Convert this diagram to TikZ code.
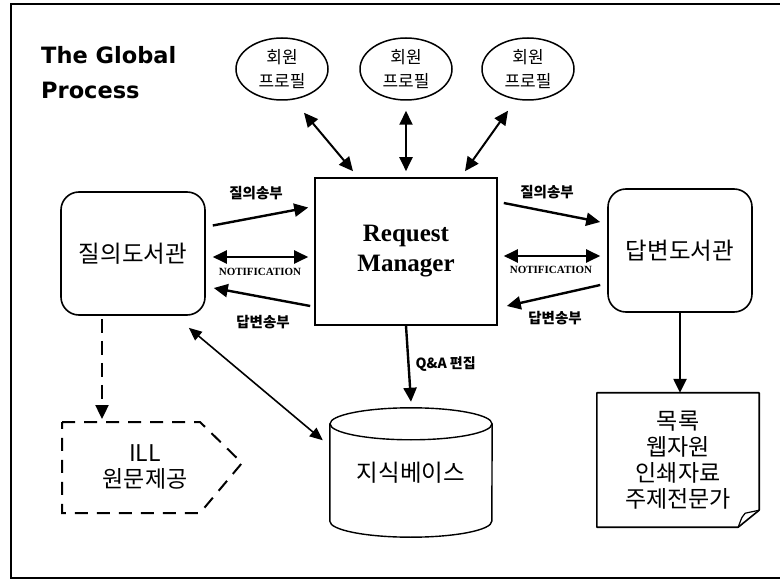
\documentclass[tikz,border=0pt]{standalone}
\usepackage{fontspec}
\setmainfont{Liberation Serif}
\newfontfamily\kr{Noto Sans CJK KR}
\newfontfamily\titlefont{DejaVu Sans}
\usetikzlibrary{arrows.meta,shapes.geometric}

\tikzset{
  lib/.style={draw, line width=1.6pt, rounded corners=18pt, minimum width=144pt,
    minimum height=123pt, font=\kr\fontsize{23.5}{26}\selectfont},
  profile/.style={draw, ellipse, line width=1.5pt, minimum width=92pt, minimum height=62pt,
    inner sep=0pt, align=center, font=\kr\fontsize{17}{24}\selectfont},
  flow/.style={line width=2.4pt, -{Triangle[length=14pt,width=13pt]}},
  twoway/.style={line width=2.4pt, {Triangle[length=14pt,width=13pt]}-{Triangle[length=14pt,width=13pt]}},
  lbl/.style={font=\kr\bfseries\fontsize{14.5}{16}\selectfont, inner sep=1pt},
  note/.style={font=\bfseries\fontsize{11}{12}\selectfont, inner sep=1pt},
  body/.style={font=\kr\fontsize{23}{26}\selectfont, align=center},
}

\begin{document}
\begin{tikzpicture}[x=1pt, y=-1pt]
  \useasboundingbox (0,0) rectangle (780,580);

  % frame
  \draw[line width=1.4pt] (790,4) -- (11,4) -- (11,578) -- (790,578);

  % title
  \node[anchor=north west, inner sep=0pt, align=left,
    font=\titlefont\bfseries\fontsize{22.5}{35}\selectfont] (title) at (41,46)
    {The Global\\Process};

  % member profiles
  \foreach \i/\x in {1/282,2/406,3/528}{
    \node[profile] (p\i) at (\x,69) {회원\\프로필};
  }

  % main boxes
  \node[draw, line width=1.6pt, minimum width=182pt, minimum height=147pt, align=center,
    font=\bfseries\fontsize{25}{30}\selectfont] (rm) at (406,251.5) {Request\\Manager};
  \node[lib] (ask) at (133,253.5) {질의도서관};
  \node[lib] (ans) at (680,250.5) {답변도서관};

  % profiles <-> manager
  \draw[twoway, line width=2pt] ([xshift=22pt,yshift=-12pt]p1.south) -- ([xshift=-53pt,yshift=6pt]rm.north);
  \draw[twoway, line width=2pt] ([yshift=-10pt]p2.south) -- ([yshift=6pt]rm.north);
  \draw[twoway, line width=2pt] ([xshift=-20pt,yshift=-10pt]p3.south) -- ([xshift=59pt,yshift=6pt]rm.north);

  % asking library <-> manager
  \draw[flow] ([xshift=7pt,yshift=28pt]ask.east) -- ([xshift=-6pt,yshift=44pt]rm.west);
  \draw[twoway] ([xshift=7pt,yshift=-3.5pt]ask.east) -- ([xshift=-6pt,yshift=-5.5pt]rm.west);
  \draw[flow] ([xshift=-4pt,yshift=-54.5pt]rm.west) -- ([xshift=8pt,yshift=-34.5pt]ask.east);
  \node[lbl] (q1) at (256,193) {질의송부};
  \node[note] (n1) at (260,272) {NOTIFICATION};
  \node[lbl] (a1) at (263,322) {답변송부};

  % manager <-> answering library
  \draw[flow] ([xshift=6pt,yshift=48.5pt]rm.east) -- ([xshift=-7pt,yshift=28.5pt]ans.west);
  \draw[twoway] ([xshift=6pt,yshift=-4.5pt]rm.east) -- ([xshift=-7pt,yshift=-5.5pt]ans.west);
  \draw[flow] ([xshift=-7pt,yshift=-34.5pt]ans.west) -- ([xshift=9pt,yshift=-54.5pt]rm.east);
  \node[lbl] (q2) at (547,192) {질의송부};
  \node[note] (n2) at (551,270) {NOTIFICATION};
  \node[lbl] (a2) at (555,318) {답변송부};

  % knowledge base (cylinder)
  \node[body, font=\kr\fontsize{23.5}{26}\selectfont, minimum width=162pt, minimum height=97pt,
    inner sep=0pt] (kb) at (411,472.5) {지식베이스};
  \draw[line width=1.4pt] (kb.north west) -- (kb.south west)
    arc[start angle=180, end angle=360, x radius=81pt, y radius=16pt] -- (kb.north east);
  \draw[line width=1.4pt] (kb.north) ellipse[x radius=81pt, y radius=16pt];
  \draw[flow] (rm.south) -- ([yshift=22pt]kb.north) node[lbl, font=\kr\bfseries\fontsize{14}{16}\selectfont,
    pos=0.5, right=5pt] {Q\&A 편집};
  \draw[line width=1.6pt, {Triangle[length=13pt,width=11pt]}-{Triangle[length=13pt,width=11pt]}]
    ([xshift=-17pt,yshift=-12pt]ask.south east) -- ([xshift=-7pt,yshift=-16.5pt]kb.north west);

  % interlibrary loan
  \coordinate (illtop) at (102,419);
  \draw[flow, dash pattern=on 14pt off 8pt] ([xshift=-31pt,yshift=-3pt]ask.south) -- (illtop);
  \draw[line width=2pt, dash pattern=on 13pt off 9pt]
    (62,422) -- (200,422) -- (242,463) -- (200,513) -- (62,513) -- cycle;
  \node[body] (ill) at (145,467) {ILL\\원문제공};

  % resources (document)
  \node[body, minimum width=162pt, minimum height=141pt, inner sep=0pt] (doc) at (678,460)
    {목록\\웹자원\\인쇄자료\\주제전문가};
  \draw[line width=1.6pt, line join=round] ([yshift=-3.5pt]doc.north west) -- ([yshift=-3.5pt]doc.north east)
    -- ([yshift=20.5pt]doc.south east) -- ([xshift=-21pt,yshift=3.5pt]doc.south east)
    -- ([yshift=3.5pt]doc.south west) -- cycle;
  \draw[line width=1.2pt] ([xshift=-21pt,yshift=3.5pt]doc.south east)
    .. controls ([xshift=-17pt,yshift=14.5pt]doc.south east) .. ([xshift=-14pt,yshift=17.5pt]doc.south east)
    -- ([yshift=20.5pt]doc.south east);
  \draw[flow] (ans.south) -- ([yshift=-3.5pt]ans.south |- doc.north);
\end{tikzpicture}
\end{document}
